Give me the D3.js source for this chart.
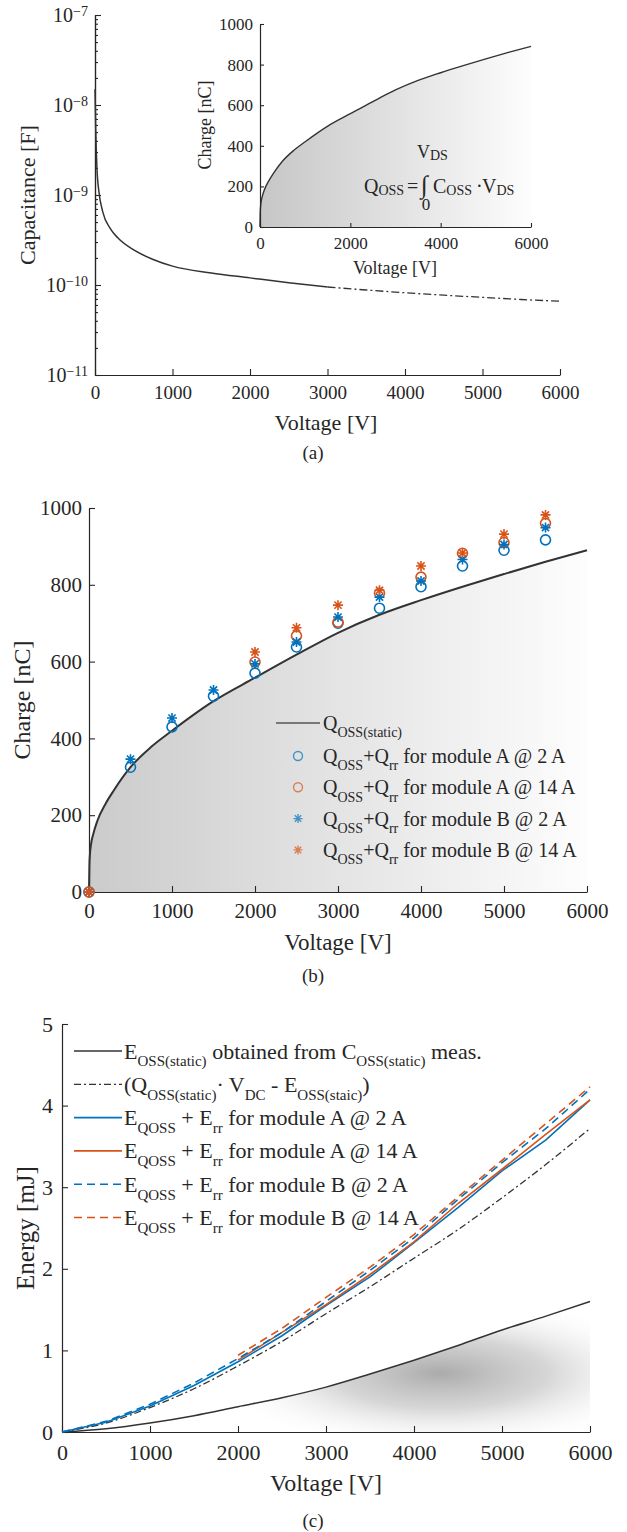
<!DOCTYPE html>
<html>
<head>
<meta charset="utf-8">
<script src="https://cdn.jsdelivr.net/npm/d3@7"></script>
<style>
body { margin: 0; background: #fff; }
svg text { font-family: "Liberation Serif", "DejaVu Serif", serif; fill: #262626; white-space: pre; }
</style>
</head>
<body>
<svg id="chart" width="627" height="1532" font-family="Liberation Serif, DejaVu Serif, serif"></svg>
<script>
// ---- data ----

// (a) output capacitance [F] vs voltage [V]
const capV = [0, 10, 25, 50, 100, 200, 300, 500, 750, 1000, 1500, 2000, 2500, 3000];
const capMeas = [1.5e-8, 5e-9, 2e-9, 1.1e-9, 6.5e-10, 4.2e-10, 3.3e-10, 2.45e-10, 1.92e-10, 1.62e-10, 1.36e-10, 1.2e-10, 1.06e-10, 9.5e-11];
const capExtV = [3000, 3500, 4000, 4500, 5000, 5500, 6000];
const capExt = [9.5e-11, 8.8e-11, 8.2e-11, 7.7e-11, 7.3e-11, 6.9e-11, 6.6e-11];

// static charge [nC] (inset of (a) and line of (b))
const qV = [0, 5, 12, 25, 50, 100, 200, 300, 500, 750, 1000, 1500, 2000, 2500, 3000, 3500, 4000, 4500, 5000, 5500, 6000];
const qStatic = [0, 70, 100, 125, 150, 185, 230, 265, 325, 378, 420, 497, 558, 618, 675, 722, 760, 795, 828, 860, 890];

// (b) measured charge points [nC]
const markV = [0, 500, 1000, 1500, 2000, 2500, 3000, 3500, 4000, 4500, 5000, 5500];
const qA2 = [0, 325, 430, 510, 570, 638, 700, 739, 795, 849, 890, 917];
const qA14 = [0, null, null, null, 599, 667, 703, 778, 820, 882, 910, 960];
const qB2 = [0, 346, 453, 526, 594, 651, 716, 768, 810, 866, 905, 949];
const qB14 = [0, null, null, null, 625, 688, 747, 786, 849, 883, 932, 982];

// (c) energy [mJ]
const eV = [0, 500, 1000, 1500, 2000, 2500, 3000, 3500, 4000, 4500, 5000, 5500, 6000];
const eStatic = [0, 0.04, 0.11, 0.2, 0.31, 0.42, 0.55, 0.71, 0.88, 1.06, 1.25, 1.42, 1.6];
const eDiff = [0, 0.11, 0.3, 0.53, 0.81, 1.11, 1.45, 1.78, 2.13, 2.48, 2.87, 3.28, 3.72];
const eA2 = [0, 0.12, 0.32, 0.57, 0.86, 1.18, 1.55, 1.9, 2.32, 2.75, 3.2, 3.58, 4.07];
const eA14 = [null, null, null, null, 0.88, 1.22, 1.56, 1.93, 2.33, 2.8, 3.22, 3.65, 4.07];
const eB2 = [0, 0.13, 0.34, 0.6, 0.9, 1.22, 1.6, 1.98, 2.38, 2.85, 3.3, 3.72, 4.2];
const eB14 = [null, null, null, null, 0.94, 1.27, 1.65, 2.02, 2.42, 2.88, 3.33, 3.78, 4.23];

const ink = "#262626";
const blue = "#0072BD";
const orange = "#D95319";
const serif = "Liberation Serif, DejaVu Serif, serif";

const svg = d3.select("#chart");
const defs = svg.append("defs");

const zip = (xs, ys) => xs.map((x, i) => ({ x: x, y: ys[i] })).filter(d => d.y !== null);

// text with subscripts / superscripts
function richText(parent, x, y, parts, size, subSize, anchor, subShift) {
	const t = parent.append("text")
		.attr("x", x)
		.attr("y", y)
		.attr("font-family", serif)
		.attr("font-size", size)
		.attr("text-anchor", anchor || "start");
	const sh = subShift === undefined ? 0.36 : subShift;
	let shift = 0;
	parts.forEach((p) => {
		const target = p[1] === "sub" ? size * sh : p[1] === "sup" ? -size * 0.45 : 0;
		const s = t.append("tspan").text(p[0]).attr("dy", target - shift);
		if (p[1]) s.attr("font-size", subSize);
		shift = target;
	});
	return t;
}

function styleAxis(g, size) {
	g.attr("font-family", serif);
	g.select(".domain").attr("stroke", ink).attr("stroke-width", 1.2);
	g.selectAll(".tick line").attr("stroke", ink).attr("stroke-width", 1.1);
	g.selectAll(".tick text").attr("font-size", size).attr("fill", ink).attr("font-family", serif);
}

function linGrad(id, from, to) {
	const gr = defs.append("linearGradient").attr("id", id)
		.attr("x1", "0%").attr("x2", "100%").attr("y1", "0%").attr("y2", "0%");
	gr.append("stop").attr("offset", "0%").attr("stop-color", from);
	gr.append("stop").attr("offset", "100%").attr("stop-color", to);
}

function star(cx, cy, r) {
	const k = r * 0.72;
	return `M${cx - r},${cy}L${cx + r},${cy}M${cx},${cy - r}L${cx},${cy + r}` +
		`M${cx - k},${cy - k}L${cx + k},${cy + k}M${cx - k},${cy + k}L${cx + k},${cy - k}`;
}

function axisTitle(x, y, text, size, rotate) {
	svg.append("text")
		.attr("transform", `translate(${x},${y})` + (rotate ? " rotate(-90)" : ""))
		.attr("text-anchor", "middle")
		.attr("dy", "0.35em")
		.attr("font-family", serif)
		.attr("font-size", size)
		.text(text);
}

const fmt = d3.format("d");

// ================= (a) =================
const xA = d3.scaleLinear().domain([0, 6000]).range([95, 560]);
const yA = d3.scaleLog().domain([1e-11, 1e-7]).range([375, 15]);

const minorA = [];
[-11, -10, -9, -8].forEach((e) => {
	for (let k = 2; k <= 9; k++) minorA.push(k * Math.pow(10, e));
});

svg.append("g")
	.attr("transform", "translate(95,0)")
	.call(d3.axisLeft(yA).tickValues(minorA).tickSize(-3).tickFormat(""))
	.call((g) => styleAxis(g, 19));

svg.append("g")
	.attr("transform", "translate(95,0)")
	.call(d3.axisLeft(yA).tickValues([1e-11, 1e-10, 1e-9, 1e-8, 1e-7]).tickSize(-6).tickSizeOuter(0).tickPadding(7))
	.call((g) => styleAxis(g, 20))
	.call((g) => g.selectAll(".tick text").each(function (d) {
		const t = d3.select(this);
		t.text(null);
		t.append("tspan").text("10");
		t.append("tspan").attr("dy", "-0.45em").attr("font-size", 14)
			.text("\u2212" + Math.round(-Math.log10(d)));
	}));

svg.append("g")
	.attr("transform", "translate(0,375)")
	.call(d3.axisBottom(xA).tickValues(d3.range(0, 6001, 1000)).tickSize(-6).tickSizeOuter(0).tickPadding(11).tickFormat(fmt))
	.call((g) => styleAxis(g, 19));

const lineA = d3.line().x(d => xA(d.x)).y(d => yA(d.y)).curve(d3.curveMonotoneX);

svg.append("path")
	.attr("d", lineA(zip(capV, capMeas)))
	.attr("fill", "none").attr("stroke", "#333").attr("stroke-width", 1.5);
svg.append("path")
	.attr("d", lineA(zip(capExtV, capExt)))
	.attr("fill", "none").attr("stroke", "#333").attr("stroke-width", 1.3)
	.attr("stroke-dasharray", "8,3,2,3");

axisTitle(27, 195, "Capacitance [F]", 22, true);
axisTitle(326, 422, "Voltage [V]", 22);
axisTitle(313, 452, "(a)", 19);

// ---- inset ----
const xI = d3.scaleLinear().domain([0, 6000]).range([260, 531]);
const yI = d3.scaleLinear().domain([0, 1000]).range([227, 24]);

linGrad("gradInset", "#c6c6c6", "#fdfdfd");
svg.append("path")
	.attr("d", d3.area().x(d => xI(d.x)).y0(yI(0)).y1(d => yI(d.y)).curve(d3.curveMonotoneX)(zip(qV, qStatic)))
	.attr("fill", "url(#gradInset)");
svg.append("path")
	.attr("d", d3.line().x(d => xI(d.x)).y(d => yI(d.y)).curve(d3.curveMonotoneX)(zip(qV, qStatic)))
	.attr("fill", "none").attr("stroke", "#333").attr("stroke-width", 1.4);

svg.append("g")
	.attr("transform", "translate(260,0)")
	.call(d3.axisLeft(yI).tickValues(d3.range(0, 1001, 200)).tickSize(-4).tickSizeOuter(0).tickPadding(7).tickFormat(fmt))
	.call((g) => styleAxis(g, 17));
svg.append("g")
	.attr("transform", "translate(0,227)")
	.call(d3.axisBottom(xI).tickValues([0, 2000, 4000, 6000]).tickSize(-4).tickSizeOuter(0).tickPadding(10).tickFormat(fmt))
	.call((g) => styleAxis(g, 17));

axisTitle(205, 125, "Charge [nC]", 18, true);
axisTitle(395, 268, "Voltage [V]", 18);

// formula, laid out piece by piece
richText(svg, 364, 193, [["Q"], ["OSS", "sub"]], 20, 14, "start", 0.08);
svg.append("text").attr("x", 407).attr("y", 193).attr("font-family", serif).attr("font-size", 20).text("=");
svg.append("text").attr("x", 421).attr("y", 193).attr("font-family", serif).attr("font-size", 25).text("\u222B");
richText(svg, 433, 193, [["C"], ["OSS", "sub"]], 20, 14, "start", 0.08);
svg.append("text").attr("x", 476).attr("y", 193).attr("font-family", serif).attr("font-size", 20).text("\u00B7");
richText(svg, 482, 193, [["V"], ["DS", "sub"]], 20, 14, "start", 0.08);
richText(svg, 417, 158, [["V"], ["DS", "sub"]], 18, 14, "start", 0.1);
svg.append("text").attr("x", 426).attr("y", 210).attr("font-family", serif).attr("font-size", 17).attr("text-anchor", "middle").text("0");

// ================= (b) =================
const xB = d3.scaleLinear().domain([0, 6000]).range([89, 587]);
const yB = d3.scaleLinear().domain([0, 1000]).range([892, 508]);

linGrad("gradB", "#cbcbcb", "#fdfdfd");
svg.append("path")
	.attr("d", d3.area().x(d => xB(d.x)).y0(yB(0)).y1(d => yB(d.y)).curve(d3.curveMonotoneX)(zip(qV, qStatic)))
	.attr("fill", "url(#gradB)");

svg.append("g")
	.attr("transform", "translate(89,0)")
	.call(d3.axisLeft(yB).tickValues(d3.range(0, 1001, 200)).tickSize(-6).tickSizeOuter(0).tickPadding(7).tickFormat(fmt))
	.call((g) => styleAxis(g, 21));
svg.append("g")
	.attr("transform", "translate(0,892)")
	.call(d3.axisBottom(xB).tickValues(d3.range(0, 6001, 1000)).tickSize(-6).tickSizeOuter(0).tickPadding(11).tickFormat(fmt))
	.call((g) => styleAxis(g, 21));

svg.append("path")
	.attr("d", d3.line().x(d => xB(d.x)).y(d => yB(d.y)).curve(d3.curveMonotoneX)(zip(qV, qStatic)))
	.attr("fill", "none").attr("stroke", "#333").attr("stroke-width", 2);

const pointSeries = [
	{ vals: qA2, color: blue, shape: "circle" },
	{ vals: qA14, color: orange, shape: "circle" },
	{ vals: qB2, color: blue, shape: "star" },
	{ vals: qB14, color: orange, shape: "star" },
];

pointSeries.forEach((s) => {
	const pts = zip(markV, s.vals);
	if (s.shape === "circle") {
		svg.append("g").selectAll("circle").data(pts).join("circle")
			.attr("cx", d => xB(d.x)).attr("cy", d => yB(d.y)).attr("r", 5)
			.attr("fill", "none").attr("stroke", s.color).attr("stroke-width", 1.6);
	} else {
		svg.append("g").selectAll("path").data(pts).join("path")
			.attr("d", d => star(xB(d.x), yB(d.y), 5))
			.attr("fill", "none").attr("stroke", s.color).attr("stroke-width", 1.6);
	}
});

// legend (b)
svg.append("line").attr("x1", 276).attr("x2", 320).attr("y1", 723).attr("y2", 723)
	.attr("stroke", "#555").attr("stroke-width", 1.5);
richText(svg, 323, 730, [["Q"], ["OSS(static)", "sub"]], 20, 14);
const legB = [" for module A @ 2 A", " for module A @ 14 A", " for module B @ 2 A", " for module B @ 14 A"];
pointSeries.forEach((s, i) => {
	const ly = 756 + i * 31.3;
	if (s.shape === "circle") {
		svg.append("circle").attr("cx", 298).attr("cy", ly).attr("r", 4.5)
			.attr("fill", "none").attr("stroke", s.color).attr("stroke-width", 1.4).attr("opacity", 0.7);
	} else {
		svg.append("path").attr("d", star(298, ly, 4.5))
			.attr("fill", "none").attr("stroke", s.color).attr("stroke-width", 1.4).attr("opacity", 0.7);
	}
	richText(svg, 323, ly + 7, [["Q"], ["OSS", "sub"], ["+Q"], ["rr", "sub"], [legB[i]]], 20, 14);
});

axisTitle(22, 700, "Charge [nC]", 24, true);
axisTitle(338, 942, "Voltage [V]", 23);
axisTitle(313, 975, "(b)", 19);

// ================= (c) =================
const xC = d3.scaleLinear().domain([0, 6000]).range([62, 590]);
const yC = d3.scaleLinear().domain([0, 5]).range([1432, 1024]);

// soft shadow under the static energy curve
defs.append("clipPath").attr("id", "underE")
	.append("path")
	.attr("d", d3.area().x(d => xC(d.x)).y0(yC(0)).y1(d => yC(d.y)).curve(d3.curveMonotoneX)(zip(eV, eStatic)));
const rg = defs.append("radialGradient").attr("id", "blob");
rg.append("stop").attr("offset", "0%").attr("stop-color", "#9c9c9c").attr("stop-opacity", 0.85);
rg.append("stop").attr("offset", "45%").attr("stop-color", "#b4b4b4").attr("stop-opacity", 0.55);
rg.append("stop").attr("offset", "100%").attr("stop-color", "#ffffff").attr("stop-opacity", 0);
svg.append("ellipse")
	.attr("clip-path", "url(#underE)")
	.attr("cx", xC(4300)).attr("cy", yC(0.72))
	.attr("rx", xC(2700) - xC(0)).attr("ry", yC(0) - yC(0.95))
	.attr("fill", "url(#blob)");

svg.append("g")
	.attr("transform", "translate(62,0)")
	.call(d3.axisLeft(yC).tickValues(d3.range(0, 6)).tickSize(-6).tickSizeOuter(0).tickPadding(9).tickFormat(fmt))
	.call((g) => styleAxis(g, 22));
svg.append("g")
	.attr("transform", "translate(0,1432)")
	.call(d3.axisBottom(xC).tickValues(d3.range(0, 6001, 1000)).tickSize(-6).tickSizeOuter(0).tickPadding(12).tickFormat(fmt))
	.call((g) => styleAxis(g, 22));

const lineC = d3.line().x(d => xC(d.x)).y(d => yC(d.y));
const energySeries = [
	{ vals: eStatic, color: "#333", dash: null, w: 1.5, curve: true },
	{ vals: eDiff, color: "#333", dash: "7,3,2,3", w: 1.3, curve: true },
	{ vals: eA2, color: blue, dash: null, w: 1.6 },
	{ vals: eA14, color: orange, dash: null, w: 1.6 },
	{ vals: eB2, color: blue, dash: "8,5", w: 1.6 },
	{ vals: eB14, color: orange, dash: "8,5", w: 1.6 },
];
energySeries.forEach((s) => {
	svg.append("path")
		.attr("d", lineC.curve(s.curve ? d3.curveMonotoneX : d3.curveLinear)(zip(eV, s.vals)))
		.attr("fill", "none").attr("stroke", s.color).attr("stroke-width", s.w)
		.attr("stroke-dasharray", s.dash);
});

// legend (c)
const legC = [
	[["E"], ["OSS(static)", "sub"], [" obtained from C"], ["OSS(static)", "sub"], [" meas."]],
	[["(Q"], ["OSS(static)", "sub"], ["\u00B7 V"], ["DC", "sub"], [" - E"], ["OSS(staic)", "sub"], [")"]],
	[["E"], ["QOSS", "sub"], [" + E"], ["rr", "sub"], [" for module A @ 2 A"]],
	[["E"], ["QOSS", "sub"], [" + E"], ["rr", "sub"], [" for module A @ 14 A"]],
	[["E"], ["QOSS", "sub"], [" + E"], ["rr", "sub"], [" for module B @ 2 A"]],
	[["E"], ["QOSS", "sub"], [" + E"], ["rr", "sub"], [" for module B @ 14 A"]],
];
energySeries.forEach((s, i) => {
	const ly = 1051 + i * 33.3;
	svg.append("line").attr("x1", 74).attr("x2", 122).attr("y1", ly).attr("y2", ly)
		.attr("stroke", s.color).attr("stroke-width", s.w)
		.attr("stroke-dasharray", s.dash);
	richText(svg, 124, ly + 7.5, legC[i], 22, 15);
});

axisTitle(25, 1228, "Energy [mJ]", 25, true);
axisTitle(326, 1483, "Voltage [V]", 24);
axisTitle(313, 1520, "(c)", 19);
</script>
</body>
</html>
